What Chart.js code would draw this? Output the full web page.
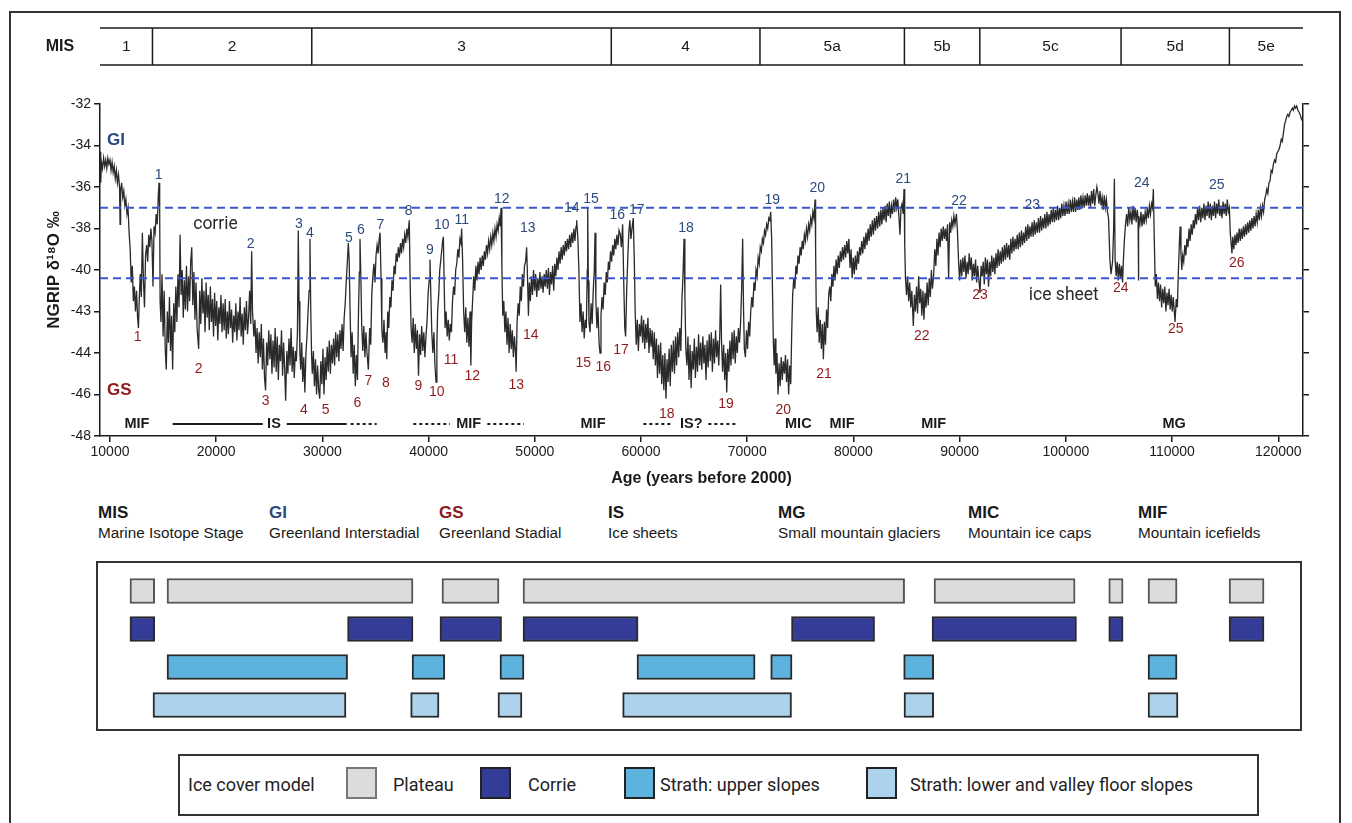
<!DOCTYPE html>
<html lang="en">
<head>
<meta charset="utf-8">
<title>NGRIP δ18O record and ice cover model</title>
<script src="https://cdn.jsdelivr.net/npm/chart.js@4.4.1/dist/chart.umd.min.js"></script>
<style>
  html, body { margin: 0; padding: 0; background: #fff; }
  body { position: relative; width: 1352px; height: 823px; overflow: hidden;
         font-family: 'Liberation Sans', Arial, Helvetica, sans-serif; color: #1a1a1a; }
  #frame { position: absolute; left: 9px; top: 11px; width: 1332px; height: 900px;
           border: 2px solid #333; box-sizing: border-box; }
  canvas { position: absolute; left: 0; }
  #ngripChart { top: 0; }
  #iceChart { top: 550px; }
  .abbr { position: absolute; top: 503px; font-size: 15.3px; line-height: 20px; white-space: nowrap; }
  .abbr b { display: block; font-size: 17px; line-height: 20px; }
  .gi { color: #2c4a7e; }
  .gs { color: #8e1b1b; }
  #legendBox { position: absolute; left: 178px; top: 754px; width: 1081px; height: 62px;
               border: 2px solid #333; box-sizing: border-box; }
  .lg { position: absolute; top: 773px; font-family: Roboto, 'Open Sans', sans-serif; font-size: 18px;
        line-height: 24px; color: #222; white-space: nowrap; }
  .sw { position: absolute; top: 767px; width: 31px; height: 32px; box-sizing: border-box; border: 2px solid #222; }
</style>
</head>
<body>
<div id="frame"></div>
<canvas id="ngripChart" width="1352" height="500"></canvas>

<div class="abbr" style="left:98px"><b>MIS</b>Marine Isotope Stage</div>
<div class="abbr" style="left:269px"><b class="gi">GI</b>Greenland Interstadial</div>
<div class="abbr" style="left:439px"><b class="gs">GS</b>Greenland Stadial</div>
<div class="abbr" style="left:608px"><b>IS</b>Ice sheets</div>
<div class="abbr" style="left:778px"><b>MG</b>Small mountain glaciers</div>
<div class="abbr" style="left:968px"><b>MIC</b>Mountain ice caps</div>
<div class="abbr" style="left:1138px"><b>MIF</b>Mountain icefields</div>

<canvas id="iceChart" width="1352" height="200"></canvas>

<div id="legendBox"></div>
<div class="lg" style="left:188px">Ice cover model</div>
<div class="sw" style="left:346px;background:#dcdcdc;border-color:#777"></div>
<div class="lg" style="left:393px">Plateau</div>
<div class="sw" style="left:480px;background:#353c97"></div>
<div class="lg" style="left:528px">Corrie</div>
<div class="sw" style="left:624px;background:#5db3dd"></div>
<div class="lg" style="left:660px">Strath: upper slopes</div>
<div class="sw" style="left:866px;background:#acd2ec"></div>
<div class="lg" style="left:910px">Strath: lower and valley floor slopes</div>

<script>
// ---- data ----
const AGE_MIN = 9060;
const AGE_MAX = 122330;

const xTickValues = [10000, 20000, 30000, 40000, 50000, 60000, 70000, 80000, 90000, 100000, 110000, 120000];
const yTickValues = [-48, -46, -44, -42, -40, -38, -36, -34, -32];
const yTickLabels = ['-48', '-46', '-44', '-43', '-40', '-38', '-36', '-34', '-32'];

// Marine Isotope Stages
const misStages = ['1', '2', '3', '4', '5a', '5b', '5c', '5d', '5e'];
const misBounds = [14000, 29000, 57200, 71200, 84800, 91900, 105200, 115400];

// thresholds (dashed lines)
const corrieThreshold = -37.0;
const iceSheetThreshold = -40.4;

// NGRIP record: age (years before 2000) and d18O (per mil)
const ngripAge = [
  9060, 9130, 9200, 9300, 9400, 9500, 9600, 9700, 9800, 9900,
  10000, 10100, 10200, 10300, 10400, 10500, 10600, 10700, 10800, 10900,
  10950, 11000, 11100, 11200, 11300, 11400, 11500, 11600, 11700, 11800,
  11900, 12000, 12100, 12200, 12300, 12400, 12500, 12600, 12680, 12750,
  12850, 12950, 13050, 13150, 13250, 13350, 13450, 13550, 13650, 13750,
  13850, 13950, 14050, 14150, 14250, 14350, 14450, 14550, 14620, 14680,
  14720, 14800, 14900, 15000, 15100, 15200, 15300, 15400, 15500, 15600,
  15700, 15800, 15900, 16000, 16100, 16200, 16300, 16400, 16500, 16600,
  16700, 16800, 16900, 17000, 17100, 17200, 17300, 17400, 17500, 17600,
  17700, 17800, 17900, 18000, 18100, 18200, 18350, 18450, 18550, 18650,
  18750, 18850, 18950, 19050, 19150, 19250, 19350, 19450, 19550, 19650,
  19750, 19850, 19950, 20050, 20150, 20250, 20350, 20450, 20550, 20650,
  20750, 20850, 20950, 21050, 21150, 21250, 21350, 21450, 21550, 21650,
  21750, 21850, 21950, 22050, 22150, 22250, 22350, 22450, 22550, 22650,
  22750, 22850, 22950, 23050, 23150, 23250, 23340, 23420, 23550, 23650,
  23750, 23850, 23950, 24050, 24150, 24250, 24350, 24450, 24550, 24650,
  24750, 24850, 24950, 25050, 25150, 25250, 25350, 25450, 25550, 25650,
  25750, 25850, 25950, 26050, 26150, 26250, 26350, 26450, 26540, 26650,
  26750, 26850, 26950, 27050, 27150, 27250, 27350, 27450, 27550, 27650,
  27730, 27800, 27880, 27960, 28050, 28150, 28250, 28350, 28450, 28550,
  28650, 28750, 28830, 28900, 28980, 29050, 29150, 29250, 29350, 29450,
  29550, 29650, 29750, 29850, 29950, 30050, 30150, 30250, 30350, 30450,
  30550, 30650, 30750, 30850, 30950, 31050, 31150, 31250, 31350, 31450,
  31550, 31650, 31750, 31850, 31950, 32050, 32150, 32250, 32350, 32440,
  32520, 32600, 32700, 32800, 32900, 33000, 33100, 33200, 33300, 33400,
  33480, 33540, 33620, 33700, 33800, 33900, 34000, 34100, 34200, 34330,
  34450, 34550, 34650, 34750, 34850, 34950, 35050, 35150, 35250, 35350,
  35430, 35520, 35600, 35700, 35800, 35900, 36000, 36060, 36150, 36250,
  36350, 36450, 36550, 36650, 36750, 36850, 36950, 37050, 37150, 37250,
  37350, 37450, 37550, 37650, 37750, 37850, 37950, 38050, 38180, 38260,
  38350, 38450, 38550, 38650, 38750, 38850, 38950, 39050, 39150, 39250,
  39350, 39450, 39550, 39650, 39750, 39850, 39950, 40050, 40130, 40200,
  40300, 40400, 40500, 40600, 40700, 40780, 40850, 40950, 41050, 41150,
  41250, 41320, 41390, 41470, 41550, 41650, 41750, 41850, 41950, 42050,
  42150, 42250, 42350, 42450, 42550, 42650, 42750, 42850, 42950, 43050,
  43110, 43200, 43300, 43400, 43500, 43600, 43700, 43800, 43900, 43980,
  44050, 44150, 44250, 44350, 44450, 44550, 44650, 44750, 44850, 44950,
  45050, 45150, 45250, 45350, 45450, 45550, 45650, 45750, 45850, 45950,
  46050, 46150, 46250, 46350, 46450, 46550, 46650, 46750, 46820, 46900,
  46980, 47080, 47180, 47280, 47380, 47480, 47580, 47680, 47780, 47880,
  47980, 48080, 48180, 48240, 48330, 48430, 48530, 48630, 48730, 48830,
  48930, 49030, 49130, 49230, 49320, 49400, 49480, 49580, 49680, 49780,
  49880, 49980, 50080, 50180, 50280, 50380, 50480, 50580, 50680, 50780,
  50880, 50980, 51080, 51180, 51280, 51380, 51480, 51580, 51680, 51780,
  51880, 51980, 52080, 52180, 52280, 52380, 52480, 52580, 52680, 52780,
  52880, 52980, 53080, 53180, 53280, 53380, 53480, 53580, 53680, 53780,
  53880, 53940, 54050, 54150, 54250, 54350, 54450, 54550, 54650, 54750,
  54850, 54940, 54980, 55040, 55100, 55200, 55300, 55400, 55500, 55600,
  55670, 55750, 55850, 55950, 56050, 56140, 56230, 56330, 56430, 56530,
  56630, 56730, 56830, 56930, 57030, 57130, 57230, 57330, 57430, 57530,
  57630, 57730, 57830, 57930, 58050, 58150, 58270, 58370, 58470, 58550,
  58650, 58750, 58850, 58950, 59050, 59150, 59270, 59370, 59450, 59550,
  59650, 59750, 59850, 59950, 60050, 60150, 60250, 60350, 60450, 60550,
  60650, 60750, 60850, 60950, 61050, 61150, 61250, 61350, 61450, 61550,
  61650, 61750, 61850, 61950, 62050, 62150, 62250, 62350, 62450, 62550,
  62650, 62750, 62850, 62950, 63050, 63150, 63250, 63350, 63450, 63550,
  63650, 63750, 63850, 63950, 64050, 64130, 64220, 64320, 64420, 64520,
  64620, 64720, 64820, 64920, 65020, 65120, 65220, 65320, 65420, 65520,
  65620, 65720, 65820, 65920, 66020, 66120, 66220, 66320, 66420, 66520,
  66620, 66720, 66820, 66920, 67020, 67120, 67220, 67320, 67420, 67500,
  67580, 67680, 67780, 67880, 67980, 68070, 68170, 68270, 68370, 68470,
  68570, 68670, 68770, 68870, 68970, 69070, 69170, 69270, 69370, 69470,
  69570, 69650, 69730, 69830, 69930, 70030, 70130, 70230, 70330, 70430,
  70530, 70630, 70730, 70830, 70930, 71030, 71130, 71230, 71330, 71430,
  71530, 71630, 71730, 71830, 71930, 72030, 72130, 72210, 72300, 72380,
  72460, 72540, 72620, 72700, 72800, 72900, 73000, 73100, 73200, 73300,
  73400, 73500, 73600, 73700, 73800, 73900, 74000, 74100, 74190, 74280,
  74380, 74480, 74580, 74680, 74780, 74880, 74980, 75080, 75180, 75280,
  75380, 75480, 75580, 75680, 75780, 75880, 75980, 76080, 76180, 76280,
  76390, 76440, 76500, 76580, 76680, 76780, 76880, 76980, 77080, 77170,
  77270, 77370, 77470, 77570, 77670, 77770, 77870, 77970, 78070, 78170,
  78270, 78370, 78470, 78570, 78670, 78770, 78870, 78970, 79070, 79170,
  79270, 79370, 79470, 79570, 79680, 79780, 79880, 79980, 80080, 80180,
  80280, 80380, 80480, 80580, 80680, 80780, 80880, 80980, 81080, 81180,
  81280, 81380, 81480, 81580, 81680, 81780, 81880, 81980, 82080, 82180,
  82280, 82380, 82480, 82580, 82680, 82780, 82880, 82980, 83080, 83180,
  83280, 83380, 83480, 83580, 83680, 83780, 83880, 83980, 84080, 84180,
  84280, 84380, 84480, 84580, 84680, 84765, 84830, 84900, 85000, 85100,
  85200, 85300, 85400, 85500, 85640, 85740, 85840, 85940, 86040, 86140,
  86240, 86340, 86440, 86540, 86640, 86740, 86840, 86940, 87040, 87140,
  87240, 87340, 87440, 87560, 87660, 87760, 87860, 87960, 88060, 88160,
  88260, 88360, 88460, 88560, 88660, 88760, 88860, 88960, 89060, 89160,
  89260, 89360, 89460, 89560, 89700, 89800, 89900, 90000, 90100, 90200,
  90300, 90400, 90500, 90600, 90700, 90800, 90900, 91000, 91100, 91200,
  91300, 91400, 91500, 91600, 91700, 91800, 91920, 92020, 92120, 92220,
  92320, 92420, 92520, 92620, 92720, 92820, 92920, 93020, 93120, 93220,
  93320, 93420, 93520, 93620, 93720, 93820, 93920, 94020, 94120, 94220,
  94320, 94420, 94520, 94620, 94720, 94820, 94920, 95020, 95120, 95220,
  95320, 95420, 95520, 95620, 95720, 95820, 95920, 96020, 96120, 96220,
  96320, 96420, 96520, 96620, 96720, 96820, 96920, 97020, 97120, 97220,
  97320, 97420, 97520, 97620, 97720, 97820, 97920, 98020, 98120, 98220,
  98320, 98420, 98520, 98620, 98720, 98820, 98920, 99020, 99120, 99220,
  99320, 99420, 99520, 99620, 99720, 99820, 99920, 100020, 100120, 100220,
  100320, 100420, 100520, 100620, 100720, 100820, 100920, 101020, 101120, 101220,
  101320, 101420, 101520, 101620, 101720, 101820, 101920, 102020, 102120, 102220,
  102320, 102420, 102520, 102620, 102720, 102820, 102920, 103020, 103120, 103220,
  103320, 103420, 103520, 103620, 103720, 103820, 103920, 104020, 104150, 104250,
  104400, 104500, 104570, 104640, 104740, 104840, 104940, 105040, 105140, 105240,
  105340, 105420, 105520, 105620, 105720, 105820, 105920, 106020, 106120, 106220,
  106320, 106420, 106520, 106620, 106720, 106800, 106830, 106870, 106970, 107070,
  107170, 107270, 107370, 107470, 107570, 107670, 107770, 107870, 107970, 108070,
  108160, 108240, 108330, 108420, 108520, 108620, 108720, 108820, 108920, 109020,
  109120, 109220, 109320, 109420, 109520, 109620, 109720, 109820, 109920, 110020,
  110120, 110280, 110400, 110500, 110600, 110700, 110760, 110840, 110920, 111000,
  111100, 111200, 111300, 111400, 111500, 111600, 111700, 111800, 111900, 112000,
  112100, 112200, 112300, 112400, 112500, 112600, 112700, 112800, 112900, 113000,
  113100, 113200, 113300, 113400, 113500, 113600, 113700, 113800, 113900, 114000,
  114100, 114200, 114300, 114400, 114500, 114600, 114700, 114800, 114900, 115000,
  115100, 115200, 115300, 115400, 115480, 115560, 115640, 115720, 115820, 115920,
  116020, 116120, 116220, 116320, 116420, 116520, 116620, 116720, 116820, 116920,
  117020, 117120, 117220, 117320, 117420, 117520, 117620, 117720, 117820, 117920,
  118020, 118120, 118220, 118320, 118420, 118520, 118620, 118720, 118820, 118920,
  119020, 119120, 119230, 119330, 119430, 119545, 119650, 119750, 119860, 119960,
  120060, 120173, 120280, 120380, 120487, 120590, 120700, 120800, 120900, 121000,
  121115, 121220, 121330, 121430, 121530, 121640, 121740, 121850, 121960, 122060,
  122160, 122250
];

const ngripD18O = [
  -34.3, -35.8, -34.8, -35.1, -34.6, -35.0, -34.7, -35.1, -34.6, -34.9,
  -34.7, -35.2, -34.8, -35.3, -35.0, -35.6, -35.2, -35.8, -35.4, -36.0,
  -37.8, -36.2, -35.8, -36.5, -36.2, -36.9, -36.6, -37.3, -37.0, -38.2,
  -39.0, -40.6, -39.8, -41.5, -40.8, -42.0, -41.0, -42.3, -42.8, -41.5,
  -40.2, -41.3, -38.2, -40.5, -41.8, -39.3, -38.8, -39.6, -38.3, -38.9,
  -38.0, -38.6, -40.8, -37.9, -38.2, -37.3, -37.8, -36.4, -35.8, -37.2,
  -41.5, -42.5, -40.2, -43.2, -41.0, -43.8, -44.8, -42.0, -43.5, -41.3,
  -43.9, -42.2, -44.8, -41.6, -43.0, -40.8, -42.5, -40.2, -41.8, -38.3,
  -41.2, -40.0, -42.3, -40.5, -41.9, -39.8, -42.0, -40.3, -41.5, -39.6,
  -38.9, -41.7, -40.1, -42.4, -40.6, -42.8, -43.8, -41.0, -42.6, -40.4,
  -42.1, -41.0, -43.0, -40.6, -42.3, -41.2, -42.9, -40.8, -42.5, -41.4,
  -43.2, -41.1, -42.7, -41.5, -43.4, -41.8, -42.6, -41.2, -43.0, -41.6,
  -42.9, -41.4, -43.3, -42.0, -43.1, -41.5, -42.8, -41.9, -43.5, -42.2,
  -43.0, -41.6, -43.4, -42.0, -42.9, -41.3, -43.2, -42.1, -43.6, -41.8,
  -42.9, -41.5, -43.1, -42.3, -41.0, -42.6, -39.1, -42.0, -43.2, -42.4,
  -44.0, -42.8, -44.5, -43.0, -44.2, -42.6, -44.8, -43.3, -45.2, -45.8,
  -43.5, -44.6, -42.9, -44.3, -43.1, -45.0, -43.4, -44.7, -42.8, -44.9,
  -43.2, -45.3, -43.6, -44.4, -42.9, -45.1, -43.5, -44.8, -46.3, -43.9,
  -45.0, -43.3, -44.6, -42.8, -44.9, -43.7, -45.2, -43.9, -44.4, -43.0,
  -38.1, -41.5, -44.0, -44.8, -43.5, -45.4, -44.2, -45.9, -44.0, -43.2,
  -42.0, -41.0, -38.5, -41.8, -44.1, -45.0, -43.9, -45.6, -44.3, -46.0,
  -44.6, -45.8, -46.2, -44.4, -45.5, -43.8, -46.0, -44.2, -45.3, -43.7,
  -44.9, -43.4, -45.0, -43.6, -44.5, -43.3, -44.6, -43.0, -44.2, -43.1,
  -44.4, -42.9, -43.8, -42.6, -43.9, -42.3, -41.6, -40.5, -39.6, -38.7,
  -39.5, -41.8, -44.2, -43.0, -45.0, -43.6, -45.6, -44.1, -45.3, -42.0,
  -40.1, -38.5, -40.3, -42.6, -43.9, -42.7, -44.2, -43.0, -44.0, -44.8,
  -42.8, -43.6, -41.2, -40.3, -39.7, -40.6, -39.3, -38.8, -39.2, -38.5,
  -38.2, -40.4, -42.9, -43.5, -42.4, -44.0, -43.0, -44.3, -42.0, -42.8,
  -41.3, -41.8, -40.5, -41.0, -39.8, -40.2, -39.2, -39.6, -38.9, -39.4,
  -38.7, -39.2, -38.5, -38.9, -38.3, -38.7, -38.0, -38.4, -37.6, -40.5,
  -42.8, -43.5, -42.3, -44.0, -42.6, -43.8, -42.9, -45.1, -43.1, -44.1,
  -42.7, -43.9, -43.0, -44.2, -43.2, -42.5, -41.2, -40.5, -39.5, -41.0,
  -43.0, -44.0, -43.0, -44.6, -45.4, -43.5, -42.0, -41.2, -40.0, -39.5,
  -39.0, -38.6, -38.4, -40.8, -42.8, -42.0, -43.2, -42.4, -43.4, -42.6,
  -43.0, -41.5, -40.8, -41.2, -40.0, -39.7, -39.0, -39.4, -38.5, -38.7,
  -38.0, -39.5, -42.0, -43.0, -41.8, -43.5, -42.3, -43.7, -42.0, -44.6,
  -42.5, -41.4, -40.3, -41.0, -39.8, -40.5, -39.6, -40.2, -39.4, -40.0,
  -39.3, -39.8, -39.1, -39.5, -38.8, -39.2, -38.6, -39.0, -38.4, -38.8,
  -38.2, -38.6, -38.0, -38.4, -37.8, -38.1, -37.5, -37.9, -37.0, -39.8,
  -42.2, -41.5, -43.0, -42.0, -43.6, -42.3, -44.0, -42.6, -43.8, -42.9,
  -44.2, -43.2, -44.0, -44.9, -42.5, -41.6, -42.2, -40.8, -41.5, -40.2,
  -40.8, -39.8, -39.6, -38.9, -40.5, -42.2, -40.6, -41.5, -40.3, -41.2,
  -40.0, -41.0, -40.2, -41.3, -40.4, -41.0, -40.1, -40.9, -40.3, -41.1,
  -40.2, -40.8, -40.0, -40.9, -39.9, -41.2, -40.1, -40.7, -39.8, -41.0,
  -39.7, -40.3, -39.4, -40.0, -39.1, -39.7, -38.9, -39.5, -38.8, -39.3,
  -38.6, -39.1, -38.5, -39.0, -38.3, -38.9, -38.2, -38.7, -38.0, -38.6,
  -37.9, -37.6, -38.4, -40.0, -42.5, -41.6, -43.0, -42.0, -43.3, -42.4,
  -42.8, -40.0, -37.0, -40.5, -42.5, -43.0, -41.6, -42.6, -41.0, -40.0,
  -38.2, -41.5, -42.8, -41.8, -43.5, -44.0, -42.2, -41.3, -41.9, -40.6,
  -41.2, -40.1, -40.6, -39.6, -40.0, -39.1, -39.6, -38.8, -39.3, -38.5,
  -39.0, -38.3, -38.8, -38.1, -38.3, -38.9, -37.8, -40.5, -42.8, -43.2,
  -41.0, -39.5, -38.2, -37.6, -38.5, -38.0, -37.5, -39.6, -42.0, -43.6,
  -42.4, -43.9, -42.6, -43.2, -42.2, -43.5, -42.4, -43.8, -42.6, -43.5,
  -42.3, -44.0, -42.8, -43.7, -42.9, -44.3, -43.0, -44.6, -43.3, -45.2,
  -43.6, -45.0, -43.5, -45.5, -44.1, -45.8, -44.0, -46.2, -44.3, -45.4,
  -43.8, -45.6, -43.6, -44.9, -43.4, -45.0, -43.2, -44.6, -43.0, -44.2,
  -42.8, -43.9, -41.5, -40.3, -38.5, -41.2, -43.8, -44.6, -43.2, -45.3,
  -43.6, -45.7, -43.9, -44.8, -43.3, -45.2, -43.7, -44.9, -43.1, -44.6,
  -43.5, -44.8, -43.2, -44.5, -43.6, -45.3, -43.4, -44.7, -43.1, -44.4,
  -43.0, -44.9, -43.3, -44.5, -42.9, -44.2, -43.4, -44.6, -43.0, -40.7,
  -43.4, -44.9, -43.6, -45.3, -44.0, -45.9, -43.8, -44.9, -43.4, -44.6,
  -43.0, -44.3, -42.9, -44.5, -43.2, -44.0, -42.8, -43.5, -42.6, -41.0,
  -38.5, -41.8, -43.8, -44.2, -42.9, -43.8, -42.5, -43.2, -42.0, -41.3,
  -41.8, -40.6, -41.0, -40.0, -40.3, -39.4, -39.7, -38.9, -39.1, -38.5,
  -38.7, -38.1, -38.3, -37.8, -38.0, -37.5, -37.6, -37.2, -38.5, -41.0,
  -43.5, -44.6, -43.3, -45.0, -44.0, -46.0, -44.5, -45.6, -44.2, -45.3,
  -44.4, -45.0, -44.1, -45.4, -44.3, -46.0, -44.6, -45.5, -43.0, -41.2,
  -40.4, -40.9, -39.8, -40.2, -39.3, -39.7, -38.9, -39.3, -38.6, -39.0,
  -38.3, -38.6, -38.0, -38.4, -37.8, -38.1, -37.5, -37.8, -37.2, -37.5,
  -36.6, -39.0, -42.0, -43.0, -41.8, -43.5, -42.4, -43.8, -42.6, -44.3,
  -42.5, -43.6, -41.9, -42.8, -41.2, -40.8, -41.5, -40.2, -40.8, -39.8,
  -40.5, -39.5, -40.2, -39.3, -39.9, -39.1, -39.6, -38.9, -39.5, -38.8,
  -39.4, -38.6, -39.2, -38.5, -39.9, -39.0, -40.4, -39.4, -40.2, -39.3,
  -40.0, -39.1, -39.7, -38.9, -39.3, -38.6, -39.2, -38.4, -39.0, -38.2,
  -38.8, -38.0, -38.6, -37.8, -38.4, -37.6, -38.3, -37.5, -38.1, -37.4,
  -38.0, -37.2, -37.9, -37.1, -37.8, -37.0, -37.6, -36.9, -37.7, -36.8,
  -37.4, -36.7, -37.5, -36.9, -37.3, -36.6, -37.2, -36.5, -37.0, -36.6,
  -37.4, -38.3, -37.0, -36.8, -37.3, -36.1, -38.8, -40.4, -41.2, -40.3,
  -41.5, -40.6, -41.8, -41.0, -42.7, -41.2, -42.0, -40.8, -42.1, -40.3,
  -41.6, -40.9, -42.2, -41.0, -42.4, -41.1, -41.8, -40.6, -41.7, -40.4,
  -41.3, -40.0, -40.9, -40.2, -39.0, -39.8, -38.5, -39.3, -38.2, -38.9,
  -38.0, -38.6, -37.9, -38.5, -38.0, -38.6, -37.8, -40.4, -37.7, -38.2,
  -37.6, -37.9, -37.4, -37.8, -37.3, -38.2, -39.6, -40.5, -39.5, -40.3,
  -39.4, -40.1, -39.3, -40.4, -39.6, -40.2, -39.2, -40.0, -39.4, -40.5,
  -39.7, -40.3, -39.5, -40.6, -39.8, -40.4, -41.1, -39.8, -40.3, -39.6,
  -40.7, -39.4, -40.2, -39.5, -40.8, -39.6, -40.3, -39.3, -40.1, -39.4,
  -40.2, -39.2, -39.9, -39.0, -39.8, -39.1, -39.7, -38.9, -39.6, -38.8,
  -39.5, -38.7, -39.4, -38.8, -39.5, -38.5, -39.2, -38.4, -39.1, -38.5,
  -39.0, -38.3, -39.0, -38.2, -38.9, -38.1, -38.8, -38.2, -38.7, -37.9,
  -38.6, -37.8, -38.5, -37.9, -38.4, -37.7, -38.4, -37.6, -38.3, -37.7,
  -38.2, -37.5, -38.2, -37.4, -38.1, -37.5, -38.0, -37.3, -38.0, -37.2,
  -37.9, -37.3, -37.8, -37.1, -37.7, -37.0, -37.7, -37.1, -37.6, -36.9,
  -37.6, -37.0, -37.5, -36.8, -37.4, -36.9, -37.4, -36.7, -37.3, -36.8,
  -37.3, -36.6, -37.2, -36.7, -37.2, -36.5, -37.2, -36.6, -37.1, -36.5,
  -37.1, -36.4, -37.0, -36.5, -37.0, -36.4, -36.9, -36.3, -36.9, -36.4,
  -37.0, -36.2, -36.8, -36.1, -36.9, -36.4, -36.0, -36.3, -36.8, -36.2,
  -36.9, -36.5, -37.1, -36.4, -37.0, -36.6, -37.2, -37.5, -39.5, -40.2,
  -39.6, -38.0, -35.6, -39.5, -40.3, -39.6, -40.5, -39.7, -40.4, -39.8,
  -40.6, -39.5, -38.5, -37.8, -37.3, -37.9, -37.0, -37.6, -37.2, -37.8,
  -36.9, -37.6, -37.0, -37.7, -37.1, -37.5, -40.5, -37.4, -37.8, -37.2,
  -37.9, -37.3, -37.8, -37.2, -37.6, -37.0, -37.5, -36.9, -37.3, -36.8,
  -37.0, -36.1, -38.6, -40.8, -40.2, -41.4, -40.6, -41.5, -40.7, -41.8,
  -40.9, -41.6, -40.8, -42.0, -41.1, -41.7, -40.9, -41.9, -41.2, -42.0,
  -41.3, -42.5, -41.4, -41.8, -40.0, -38.6, -37.9, -39.2, -40.0, -39.3,
  -39.6, -38.8, -39.3, -38.5, -38.9, -38.0, -38.6, -37.8, -38.3, -37.6,
  -38.0, -37.3, -37.8, -37.0, -37.6, -36.9, -37.7, -37.0, -37.5, -36.8,
  -37.6, -36.9, -37.4, -36.7, -37.5, -36.8, -37.6, -36.9, -37.4, -36.7,
  -37.5, -36.8, -37.3, -36.6, -37.4, -36.9, -37.5, -36.7, -37.3, -36.8,
  -37.4, -36.6, -37.2, -37.0, -38.2, -38.7, -39.2, -38.4, -39.0, -38.3,
  -38.8, -38.2, -38.7, -38.0, -38.6, -38.0, -38.5, -37.9, -38.4, -37.8,
  -38.3, -37.7, -38.2, -37.6, -38.1, -37.5, -38.0, -37.4, -37.9, -37.3,
  -37.7, -37.1, -37.6, -37.0, -37.4, -36.9, -37.2, -36.6, -36.4, -36.1,
  -36.3, -35.8, -35.7, -35.2, -35.3, -34.9, -34.7, -34.8, -34.4, -34.3,
  -34.2, -34.0, -33.7, -33.8, -33.4, -33.0, -32.8, -32.6, -32.5, -32.6,
  -32.4, -32.3, -32.2, -32.3, -32.1, -32.2, -32.1, -32.3, -32.4, -32.5,
  -32.7, -32.8
];

// Greenland Interstadial (GI) and Stadial (GS) label positions [age, d18O], numbered 1..n
const giLabelAt = [
  [14586, -35.42], [23249, -38.75], [27797, -37.78], [28832, -38.2], [32505, -38.46],
  [33635, -38.1], [35452, -37.83], [38126, -37.14], [40132, -39.04], [41234, -37.83],
  [43117, -37.59], [46883, -36.58], [49331, -37.96], [53475, -37.03], [55292, -36.58],
  [57768, -37.35], [59595, -37.11], [64237, -37.96], [72363, -36.63], [76601, -36.06],
  [84699, -35.61], [89944, -36.66], [96846, -36.87], [107147, -35.82], [114209, -35.9]
];
const gsLabelAt = [
  [12608, -43.24], [18352, -44.79], [24661, -46.3], [28267, -46.75], [30311, -46.75],
  [33286, -46.4], [34322, -45.35], [35989, -45.43], [39030, -45.59], [40763, -45.87],
  [42109, -44.34], [44115, -45.11], [48258, -45.54], [49614, -43.13], [54567, -44.47],
  [56450, -44.66], [58117, -43.86], [62420, -46.95], [68004, -46.47], [73399, -46.75],
  [77232, -45.01], [86431, -43.18], [91921, -41.2], [105169, -40.87], [110348, -42.86],
  [116092, -39.65]
];

// glacier modes along the bottom of the record
const modeRowValue = -47.42;
const modeNames = ['MIF', 'IS', 'MIF', 'MIF', 'IS?', 'MIC', 'MIF', 'MIF', 'MG'];
const modeAges = [12540, 25440, 43780, 55480, 64740, 74810, 78930, 87560, 110190];
const modeSolidSpans = [[15900, 24380], [26640, 32290]];
const modeDashedSpans = [[32660, 35110], [38560, 42015], [45530, 48980], [60220, 62890], [66340, 69160]];

// ice cover model spans (years before 2000)
const iceTypes = ['Plateau', 'Corrie', 'Strath: upper slopes', 'Strath: lower and valley floor slopes'];
const plateauSpans = [[11880, 14210], [15370, 38530], [41260, 46630], [48890, 84820],
                      [87590, 100870], [104040, 105390], [107740, 110470], [115370, 118660]];
const corrieSpans = [[11880, 14210], [32370, 38530], [41070, 46870], [48890, 59720],
                     [74170, 81990], [87400, 101000], [104040, 105390], [115370, 118660]];
const upperSlopeSpans = [[15370, 32370], [38440, 41530], [46720, 48980], [59620, 70740],
                         [72210, 74220], [84730, 87560], [107740, 110470]];
const lowerSlopeSpans = [[14050, 32220], [38310, 40980], [46530, 48790], [58270, 74170],
                         [84760, 87560], [107740, 110560]];

// ---- styles ----
const FONT = "'Liberation Sans', Arial, Helvetica, sans-serif";
const INK = '#1a1a1a';
const GI_BLUE = '#2c4a7e';
const GS_RED = '#8e1b1b';
const iceFill = ['#dcdcdc', '#353c97', '#5db3dd', '#acd2ec'];
const iceEdge = ['#555555', '#2a2a2a', '#2a2a2a', '#2a2a2a'];

if (ngripAge.length !== ngripD18O.length) {
  console.error('ngrip length mismatch', ngripAge.length, ngripD18O.length);
}

// MIS strip, labels and glacier modes drawn with the chart's own scales
const ngripAnnotations = {
  id: 'ngripAnnotations',
  afterDraw(chart) {
    const { ctx, scales: { x, y } } = chart;
    const px = v => x.getPixelForValue(v);
    const py = v => y.getPixelForValue(v);
    ctx.save();

    // MIS strip
    const top = 28, bottom = 65, mid = 47;
    ctx.strokeStyle = INK;
    ctx.lineWidth = 1.5;
    ctx.beginPath();
    ctx.moveTo(x.left, top); ctx.lineTo(x.right, top);
    ctx.moveTo(x.left, bottom); ctx.lineTo(x.right, bottom);
    misBounds.forEach(b => { ctx.moveTo(px(b), top); ctx.lineTo(px(b), bottom); });
    ctx.stroke();
    ctx.fillStyle = INK;
    ctx.textAlign = 'center';
    ctx.textBaseline = 'middle';
    ctx.font = 'bold 16px ' + FONT;
    ctx.fillText('MIS', 60, mid);
    ctx.font = '15.5px ' + FONT;
    const edges = [x.min, ...misBounds, x.max];
    misStages.forEach((s, i) => {
      ctx.fillText(s, (px(edges[i]) + px(edges[i + 1])) / 2, mid);
    });

    // GI / GS headings
    ctx.textAlign = 'left';
    ctx.font = 'bold 17px ' + FONT;
    ctx.fillStyle = GI_BLUE;
    ctx.fillText('GI', px(9717), py(-33.73));
    ctx.fillStyle = GS_RED;
    ctx.fillText('GS', px(9717), py(-45.78));

    // numbered events
    ctx.textAlign = 'center';
    ctx.font = '14px ' + FONT;
    ctx.fillStyle = GI_BLUE;
    giLabelAt.forEach((p, i) => ctx.fillText(String(i + 1), px(p[0]), py(p[1])));
    ctx.fillStyle = GS_RED;
    gsLabelAt.forEach((p, i) => ctx.fillText(String(i + 1), px(p[0]), py(p[1])));

    // threshold names
    ctx.fillStyle = '#2a2a2a';
    ctx.font = "17.5px Roboto, 'Open Sans', sans-serif";
    ctx.fillText('corrie', px(19934), py(-37.83));
    ctx.fillText('ice sheet', px(99810), py(-41.25));

    // glacier modes
    ctx.fillStyle = INK;
    ctx.font = 'bold 14.5px ' + FONT;
    const ry = py(modeRowValue);
    modeNames.forEach((n, i) => ctx.fillText(n, px(modeAges[i]), ry));
    ctx.strokeStyle = INK;
    ctx.lineWidth = 2;
    ctx.beginPath();
    modeSolidSpans.forEach(s => { ctx.moveTo(px(s[0]), ry); ctx.lineTo(px(s[1]), ry); });
    ctx.stroke();
    ctx.setLineDash([3, 3]);
    ctx.beginPath();
    modeDashedSpans.forEach(s => { ctx.moveTo(px(s[0]), ry); ctx.lineTo(px(s[1]), ry); });
    ctx.stroke();
    ctx.restore();
  }
};

const axisGrid = { drawOnChartArea: false, drawTicks: true, tickLength: 6, color: INK, lineWidth: 1.5 };
const axisBorder = { display: true, color: INK, width: 1.5 };
const setYTicks = s => { s.ticks = yTickValues.map(v => ({ value: v })); };

new Chart(document.getElementById('ngripChart'), {
  type: 'line',
  data: {
    datasets: [
      {
        label: 'corrie threshold',
        data: [{ x: AGE_MIN, y: corrieThreshold }, { x: AGE_MAX, y: corrieThreshold }],
        borderColor: '#3d56c9', borderWidth: 2, borderDash: [8, 5], pointRadius: 0
      },
      {
        label: 'ice sheet threshold',
        data: [{ x: AGE_MIN, y: iceSheetThreshold }, { x: AGE_MAX, y: iceSheetThreshold }],
        borderColor: '#3d56c9', borderWidth: 2, borderDash: [8, 5], pointRadius: 0
      },
      {
        label: 'NGRIP d18O',
        data: ngripAge.map((a, i) => ({ x: a, y: ngripD18O[i] })),
        borderColor: '#2a2a2a', borderWidth: 1.3, pointRadius: 0, tension: 0
      }
    ]
  },
  options: {
    responsive: false,
    animation: false,
    devicePixelRatio: 1,
    layout: { padding: { top: 104, left: 0, right: 0, bottom: 0 } },
    plugins: { legend: { display: false }, tooltip: { enabled: false } },
    scales: {
      x: {
        type: 'linear', position: 'bottom', min: AGE_MIN, max: AGE_MAX,
        afterBuildTicks: s => { s.ticks = xTickValues.map(v => ({ value: v })); },
        afterFit: s => { s.height = 64; },
        ticks: { callback: v => String(v), autoSkip: false, maxRotation: 0, padding: 2,
                 color: INK, font: { family: FONT, size: 14 } },
        grid: axisGrid,
        border: axisBorder,
        title: { display: true, text: 'Age (years before 2000)', color: INK,
                 font: { family: FONT, size: 16, weight: 'bold' }, padding: { top: 0, bottom: 12 } }
      },
      y: {
        type: 'linear', position: 'left', min: -48, max: -32,
        afterBuildTicks: setYTicks,
        afterFit: s => { s.width = 100; },
        ticks: { callback: v => yTickLabels[yTickValues.indexOf(v)], padding: 3,
                 color: INK, font: { family: FONT, size: 14 } },
        grid: axisGrid,
        border: axisBorder,
        title: { display: true, text: 'NGRIP δ¹⁸O ‰', color: INK,
                 font: { family: FONT, size: 17, weight: 'bold' }, padding: { top: 44, bottom: 0 } }
      },
      yRight: {
        type: 'linear', position: 'right', min: -48, max: -32,
        afterBuildTicks: setYTicks,
        afterFit: s => { s.width = 49; },
        ticks: { display: false },
        grid: axisGrid,
        border: axisBorder
      }
    }
  },
  plugins: [ngripAnnotations]
});

// frame around the ice cover model bars
const iceFrame = {
  id: 'iceFrame',
  beforeDraw(chart) {
    const { ctx, chartArea: a } = chart;
    ctx.save();
    ctx.strokeStyle = '#333';
    ctx.lineWidth = 2;
    ctx.strokeRect(a.left - 3, a.top - 10, a.width + 1, a.height + 16);
    ctx.restore();
  }
};

const iceSpans = [plateauSpans, corrieSpans, upperSlopeSpans, lowerSlopeSpans];

new Chart(document.getElementById('iceChart'), {
  type: 'bar',
  data: {
    labels: iceTypes,
    datasets: iceTypes.map((t, i) => ({
      label: t,
      data: iceSpans[i].map(s => ({ x: s, y: t })),
      backgroundColor: iceFill[i],
      borderColor: iceEdge[i],
      borderWidth: 2,
      borderSkipped: false,
      barThickness: 25,
      grouped: false
    }))
  },
  options: {
    indexAxis: 'y',
    responsive: false,
    animation: false,
    devicePixelRatio: 1,
    layout: { padding: { left: 100, right: 49, top: 22, bottom: 26 } },
    plugins: { legend: { display: false }, tooltip: { enabled: false } },
    scales: {
      x: { type: 'linear', min: AGE_MIN, max: AGE_MAX, display: false },
      y: { type: 'category', display: false }
    }
  },
  plugins: [iceFrame]
});
</script>
</body>
</html>
